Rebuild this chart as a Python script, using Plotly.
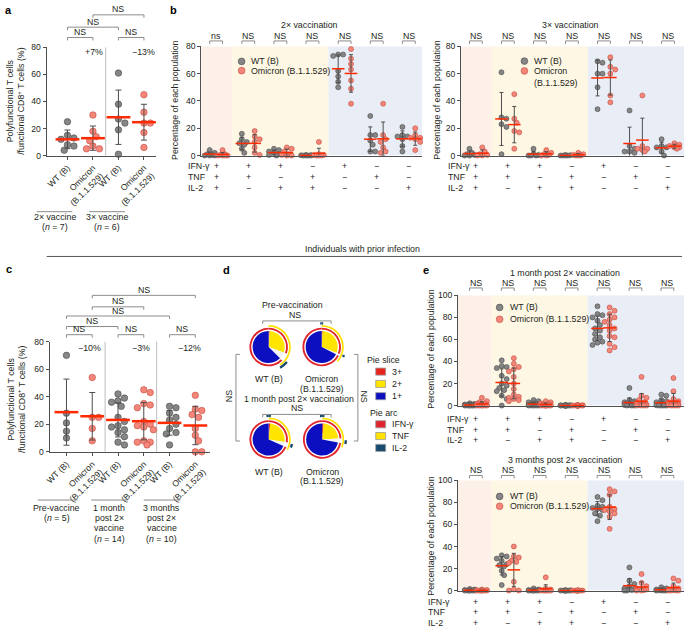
import numpy as np
import plotly.graph_objects as go

W, H = 685, 632
FONT = "Liberation Sans, Arial, Helvetica, sans-serif"
TXT = "#231f20"
AX = "#505050"
BR = "#8c8c8c"
FS = 8.8

# ---------------- data ----------------
# panel a
a_ticks = ["WT (B)", "Omicron<br>(B.1.1.529)", "WT (B)", "Omicron<br>(B.1.1.529)"]
a_wt_2x = [25, 15, 13, 12, 8, 7, 4]
a_om_2x = [30, 18, 14, 11, 7, 5, 5]
a_wt_3x = [61, 38, 27, 24, 19, 1]
a_om_3x = [45, 32, 24, 24, 17, 6]
a_change = ["+7%", "−13%"]

# panel b / e categories
ifn_row = ["+", "+", "+", "−", "+", "−", "−"]
tnf_row = ["+", "+", "−", "+", "−", "+", "−"]
il2_row = ["+", "−", "+", "+", "−", "−", "+"]
b2_sig = ["ns", "NS", "NS", "NS", "NS", "NS", "NS"]
other_sig = ["NS"] * 7

b2_wt = [[4, 2, 1, 0.5, 0, 0, 0],
         [16, 12, 10, 9, 8, 5, 2],
         [5, 4, 3, 2, 1, 0.5, 0],
         [0.5, 0.3, 0.2, 0, 0, 0, 0],
         [74, 74, 73, 62, 58, 54, 50],
         [29, 15, 15, 11, 8, 3, 3],
         [21, 15, 14, 14, 12, 7, 3]]
b2_om = [[4, 1, 0.5, 0, 0, 0, 0],
         [18, 14, 12, 10, 6, 2, 0.5],
         [6, 5, 3, 1, 0.5, 0, 0],
         [10, 1, 0.5, 0.3, 0, 0, 0],
         [78, 71, 67, 63, 55, 49, 38],
         [38, 15, 12, 10, 6, 3, 2],
         [20, 15, 13, 13, 12, 10, 4]]
b3_wt = [[5, 2, 1, 0.5, 0, 0],
         [61, 28, 27, 23, 21, 1],
         [5, 1, 0.5, 0, 0, 0],
         [0.5, 0.3, 0, 0, 0, 0],
         [69, 68, 60, 60, 50, 34],
         [33, 7, 5, 3, 3, 2],
         [12, 7, 6, 6, 3, 0]]
b3_om = [[6, 3, 1, 0.5, 0, 0],
         [45, 27, 24, 18, 17, 5],
         [4, 2, 1, 0.5, 0, 0],
         [2, 1, 0.5, 0, 0, 0],
         [72, 65, 63, 60, 44, 39],
         [44, 7, 5, 5, 4, 3],
         [9, 8, 7, 6, 6, 5]]

# panel c
c_ticks = ["WT (B)", "Omicron<br>(B.1.1.529)"] * 3
c_wt_pre = [70, 28, 21, 15, 10]
c_om_pre = [54, 25, 25, 17, 8]
c_wt_1m = [42, 39, 37, 36, 33, 25, 22, 19, 18, 16, 14, 11, 7, 5]
c_om_1m = [45, 43, 35, 34, 32, 22, 20, 19, 18, 16, 8, 7, 7, 5]
c_wt_3m = [33, 32, 28, 25, 23, 20, 17, 14, 13, 5]
c_om_3m = [41, 31, 30, 27, 25, 17, 12, 8, 0, 0]
c_change = ["−10%", "−3%", "−12%"]

# panel d (pie fractions, % of circle clockwise from 12 o'clock)
pie_3plus = [1.0, 1.0, 1.5, 1.5]
pie_2plus = [29.5, 30.0, 26.0, 22.5]
pie_gap = [7.0, 1.5, 4.0, 4.0]
pie_1plus = [62.5, 67.5, 68.5, 72.0]
arc_tnf_end = [41, 37, 33, 31]
arc_il2 = [[(36, 42)], [(-1, 1), (30.5, 32)], [(-1.5, 1.5), (28, 30.5)], [(-1.5, 1.5), (25.5, 28)]]

# panel e
e1_wt = [[2, 1.5, 1, 1, 0.5, 0.5, 0.3, 0.2, 0, 0, 0, 0, 0, 0],
         [41, 36, 35, 34, 27, 24, 20, 18, 16, 14, 13, 9, 6, 0],
         [5, 4, 3, 2, 1.5, 1, 1, 0.5, 0.3, 0, 0, 0, 0, 0],
         [0.5, 0.3, 0.2, 0.1, 0, 0, 0, 0, 0, 0, 0, 0, 0, 0],
         [90, 83, 82, 80, 77, 73, 70, 68, 65, 62, 60, 58, 57, 55],
         [16, 5, 4, 3, 3, 2, 2, 1, 1, 0.5, 0.3, 0, 0, 0],
         [10, 9, 5, 4, 3, 2, 1, 1, 0.5, 0.3, 0, 0, 0, 0]]
e1_om = [[7, 4, 3, 2, 1.5, 1, 0.5, 0.3, 0, 0, 0, 0, 0, 0],
         [43, 38, 35, 33, 31, 26, 20, 15, 10, 8, 7, 6, 5, 4],
         [4, 3, 2, 1.5, 1, 0.5, 0.3, 0, 0, 0, 0, 0, 0, 0],
         [0.5, 0.3, 0, 0, 0, 0, 0, 0, 0, 0, 0, 0, 0, 0],
         [89, 86, 83, 80, 78, 76, 73, 70, 68, 63, 62, 56, 53, 50],
         [26, 9, 7, 5, 3, 2, 1, 1, 0.5, 0.3, 0, 0, 0, 0],
         [25, 13, 6, 4, 3, 2, 1, 1, 0.5, 0.3, 0, 0, 0, 0]]
e2_wt = [[1.5, 1, 0.5, 0.3, 0, 0, 0, 0, 0, 0],
         [32, 31, 29, 27, 24, 23, 22, 18, 14, 5],
         [2, 1, 0.5, 0.3, 0, 0, 0, 0, 0, 0],
         [0.3, 0.2, 0, 0, 0, 0, 0, 0, 0, 0],
         [85, 82, 77, 76, 75, 74, 73, 70, 68, 63],
         [21, 9, 6, 4, 2, 1, 1, 0.5, 0, 0],
         [3, 2, 1, 1, 0.5, 0.3, 0, 0, 0, 0]]
e2_om = [[1, 0.5, 0.3, 0, 0, 0, 0, 0, 0, 0],
         [40, 31, 30, 27, 26, 25, 8, 1, 0, 0],
         [12, 2, 1, 0.5, 0, 0, 0, 0, 0, 0],
         [0.3, 0, 0, 0, 0, 0, 0, 0, 0, 0],
         [92, 90, 87, 76, 74, 73, 72, 70, 67, 56],
         [15, 7, 4, 2, 2, 1, 1, 0.5, 0, 0],
         [11, 9, 4, 2, 1, 0.5, 0, 0, 0, 0]]

# ---------------- helpers ----------------
def fx(px):
    return px / W


def fy(py):
    return 1 - py / H


fig = go.Figure()
shapes = []
anns = []

WT_FILL, WT_EDGE = "#868686", "#4a4a4a"
OM_FILL, OM_EDGE = "#f4877a", "#c0493c"
RED = "#ff2a00"


def A(x, y, text, size=FS, xref="paper", xanchor="center", yanchor="middle", angle=0, color=TXT):
    xx = fx(x) if xref == "paper" else x
    anns.append(dict(x=xx, y=fy(y), xref=xref, yref="paper", text=text, showarrow=False,
                     xanchor=xanchor, yanchor=yanchor, textangle=angle,
                     font=dict(size=size, color=color, family=FONT)))


def hbracket(xref, x1, x2, ypx, text="NS", tick=3, gap=5.5):
    shapes.append(dict(type="path", xref=xref, yref="paper",
                       path=f"M {x1},{fy(ypx + tick)} L {x1},{fy(ypx)} L {x2},{fy(ypx)} L {x2},{fy(ypx + tick)}",
                       line=dict(color=BR, width=1)))
    A((x1 + x2) / 2, ypx - gap, text, xref=xref)


def pline(x0, y0, x1, y1, color=BR, width=1):
    shapes.append(dict(type="line", xref="paper", yref="paper", x0=fx(x0), y0=fy(y0),
                       x1=fx(x1), y1=fy(y1), line=dict(color=color, width=width)))


def swarm(vals, ypx, d, maxoff):
    vals = np.asarray(vals, float)
    order = np.argsort(-vals, kind="stable")
    placed = []
    offs = np.zeros(len(vals))
    step = d * 0.5
    cands = [0.0]
    k = 1
    while k * step <= maxoff + 1e-9:
        cands += [k * step, -k * step]
        k += 1
    for i in order:
        y = vals[i] * ypx
        best, bestd = 0.0, -1
        for c in cands:
            md = min((np.hypot(c - p[0], y - p[1]) for p in placed), default=1e9)
            if md >= d * 0.95:
                best = c
                break
            if md > bestd:
                bestd, best = md, c
        placed.append((best, y))
        offs[i] = best
    return offs


def add_groups(xa, ya, centers, groups, fill, edge, size, ypx, xpx, maxoff, barlen, barw, cap, lw):
    xs, ys, mx, my, sd = [], [], [], [], []
    for c, vals in zip(centers, groups):
        offs = swarm(vals, ypx, size, maxoff)
        xs += [c + o / xpx for o in offs]
        ys += list(vals)
        mx.append(c)
        my.append(float(np.mean(vals)))
        sd.append(float(np.std(vals, ddof=1)))
    fig.add_trace(go.Scatter(x=xs, y=ys, xaxis=xa, yaxis=ya, mode="markers",
                             marker=dict(size=size, color=fill, line=dict(color=edge, width=lw)),
                             cliponaxis=False, hoverinfo="skip", showlegend=False))
    fig.add_trace(go.Scatter(x=mx, y=my, xaxis=xa, yaxis=ya, mode="markers",
                             marker=dict(size=1, color="rgba(0,0,0,0)"),
                             error_y=dict(type="data", array=sd, visible=True, color="#4d4d4d",
                                          thickness=1, width=cap),
                             hoverinfo="skip", showlegend=False))
    fig.add_trace(go.Scatter(x=mx, y=my, xaxis=xa, yaxis=ya, mode="markers",
                             marker=dict(symbol="line-ew", size=barlen, color=RED,
                                         line=dict(color=RED, width=barw)),
                             cliponaxis=False, hoverinfo="skip", showlegend=False))


def yax(top, bot, rng, anchor, vals):
    return dict(domain=[fy(bot), fy(top)], range=rng, anchor=anchor, showgrid=False, zeroline=False,
                showline=True, linecolor=AX, linewidth=1, ticks="outside", ticklen=3, tickcolor=AX,
                tickvals=vals, tickfont=dict(size=8.6, color=TXT, family=FONT), fixedrange=True)


def xax(left, right, rng, anchor, tickvals=None, ticktext=None):
    d = dict(domain=[fx(left), fx(right)], range=rng, anchor=anchor, showgrid=False, zeroline=False,
             showline=True, linecolor=AX, linewidth=1, fixedrange=True)
    if tickvals is None:
        d.update(showticklabels=False, ticks="")
    else:
        d.update(tickvals=tickvals, ticktext=ticktext, tickangle=-45, ticks="outside", ticklen=3,
                 tickcolor=AX, tickfont=dict(size=8.6, color=TXT, family=FONT))
    return d


# ---------------- panel a ----------------
a_y = 110 / 80
add_groups("x", "y", [0, 2], [a_wt_2x, a_wt_3x], WT_FILL, WT_EDGE, 6.5, a_y, 25.7, 9, 17, 2.5, 3, 0.6)
add_groups("x", "y", [1, 3], [a_om_2x, a_om_3x], OM_FILL, OM_EDGE, 6.5, a_y, 25.7, 9, 17, 2.5, 3, 0.6)
shapes.append(dict(type="line", xref="x", yref="y", x0=1.5, x1=1.5, y0=0, y1=80,
                   line=dict(color="#bdbdbd", width=1), layer="below"))
hbracket("x", 0, 1, 33)
hbracket("x", 2, 3, 33)
hbracket("x", 0, 2, 22.5)
hbracket("x", 1, 3, 10)
A(90, 48, a_change[0])
A(140, 48, a_change[1])
A(10.5, 97, "Polyfunctional T cells<br>/functional CD8<sup>+</sup> T cells (%)", angle=-90)
pline(32, 210, 68, 210)
pline(85, 210, 121, 210)
A(50, 215.5, "2× vaccine")
A(50, 226, "(<i>n</i> = 7)")
A(103, 215.5, "3× vaccine")
A(103, 226, "(<i>n</i> = 6)")

# ---------------- panel b ----------------
b_y = 111 / 80
cats = list(range(7))
regions = [(-1, 0.5, "#fdf0e8"), (0.5, 3.5, "#fef7e4"), (3.5, 7, "#e9eef6")]
for xa, ya, wt, om, sig, title, tx, lab_x, xr in [
        ("x2", "y2", b2_wt, b2_om, b2_sig, "2× vaccination", 307, 183, [-0.463, 6.42]),
        ("x3", "y3", b3_wt, b3_om, other_sig, "3× vaccination", 570, 445, [-0.465, 6.5])]:
    for x0, x1, col in regions:
        shapes.append(dict(type="rect", xref=xa, yref=ya, x0=max(x0, xr[0]), x1=min(x1, xr[1]), y0=0, y1=80,
                           fillcolor=col, line=dict(width=0), layer="below"))
    add_groups(xa, ya, [c - 0.2 for c in cats], wt, WT_FILL, WT_EDGE, 5, b_y, 32.4, 5, 9, 1.5, 2, 0.6)
    add_groups(xa, ya, [c + 0.2 for c in cats], om, OM_FILL, OM_EDGE, 5, b_y, 32.4, 5, 9, 1.5, 2, 0.6)
    A(tx, 20, title)
    for c in cats:
        hbracket(xa, c - 0.2, c + 0.2, 36.5, text=sig[c])
        A(c, 164, ifn_row[c], xref=xa)
        A(c, 175, tnf_row[c], xref=xa)
        A(c, 186, il2_row[c], xref=xa)
    A(lab_x, 164, "IFN-γ", xanchor="left")
    A(lab_x, 175, "TNF", xanchor="left")
    A(lab_x, 186, "IL-2", xanchor="left")

A(172, 97, "Percentage of each population", angle=-90)
A(436, 97, "Percentage of each population", angle=-90)


def legend_marks(cx, cy_wt, cy_om, tx, om_text):
    for cy, fill, edge in [(cy_wt, WT_FILL, WT_EDGE), (cy_om, OM_FILL, OM_EDGE)]:
        shapes.append(dict(type="circle", xref="paper", yref="paper", x0=fx(cx - 3.4), x1=fx(cx + 3.4),
                           y0=fy(cy + 3.4), y1=fy(cy - 3.4), fillcolor=fill, line=dict(color=edge, width=0.6)))
    A(tx, cy_wt, "WT (B)", xanchor="left")
    A(tx, cy_om, om_text, xanchor="left")


legend_marks(238.7, 57.3, 66.7, 246, "Omicron (B.1.1.529)")
legend_marks(524, 57, 67, 532, "Omicron")
A(532, 79, "(B.1.1.529)", xanchor="left")

# separator
A(361, 248, "Individuals with prior infection")
pline(42, 255.5, 683, 255.5, color="#555555", width=1)

# ---------------- panel c ----------------
c_y = 112 / 80
add_groups("x4", "y4", [0, 2, 4], [c_wt_pre, c_wt_1m, c_wt_3m], WT_FILL, WT_EDGE, 6.5, c_y, 26, 10, 17, 2.5, 3, 0.6)
add_groups("x4", "y4", [1, 3, 5], [c_om_pre, c_om_1m, c_om_3m], OM_FILL, OM_EDGE, 6.5, c_y, 26, 10, 17, 2.5, 3, 0.6)
for xv in [1.5, 3.5]:
    shapes.append(dict(type="line", xref="x4", yref="y4", x0=xv, x1=xv, y0=0, y1=80,
                       line=dict(color="#bdbdbd", width=1), layer="below"))
for p in [(0, 1), (2, 3), (4, 5)]:
    hbracket("x4", p[0], p[1], 335)
hbracket("x4", 0, 2, 326.7)
hbracket("x4", 0, 4, 316)
hbracket("x4", 1, 3, 306.7)
hbracket("x4", 1, 5, 295)
A(85, 349, c_change[0])
A(137, 349, c_change[1])
A(186, 349, c_change[2])
A(11.5, 400, "Polyfunctional T cells<br>/functional CD8<sup>+</sup> T cells (%)", angle=-90)
pline(33, 503, 73, 503)
pline(87, 503, 124, 503)
pline(140, 503, 177, 503)
for cx, lines in [(52, ["Pre-vaccine", "(<i>n</i> = 5)"]),
                  (105, ["1 month", "post 2×", "vaccine", "(<i>n</i> = 14)"]),
                  (158, ["3 months", "post 2×", "vaccine", "(<i>n</i> = 10)"])]:
    for i, t in enumerate(lines):
        A(cx, 511 + 10.4 * i, t)

# ---------------- panel d ----------------
TRANSP = "rgba(255,255,255,0)"
C3, C2, C1 = "#e8231a", "#ffe500", "#0b0fbf"
CIFN, CTNF, CIL2 = "#e0262c", "#ffe100", "#174a70"
pie_centers = [(266, 347.5), (319.5, 347.5), (266, 441.5), (320, 441.5)]


def ring(segs):
    pieces = []
    for s, e in segs:
        if s < 0:
            pieces += [(s + 100, 100), (0, e)]
        else:
            pieces.append((s, e))
    pieces.sort()
    vals, flags = [], []
    pos = 0.0
    for s, e in pieces:
        if s > pos:
            vals.append(s - pos)
            flags.append(False)
        vals.append(e - s)
        flags.append(True)
        pos = e
    if pos < 100:
        vals.append(100 - pos)
        flags.append(False)
    return vals, flags


pie_id = [0]


def add_pie(cx, cy, r_out, r_in, vals, colors):
    pie_id[0] += 1
    pid = pie_id[0]
    fig.add_trace(go.Pie(values=vals, labels=[f"p{pid}s{i}" for i in range(len(vals))],
                         marker=dict(colors=colors, line=dict(width=0)),
                         hole=(r_in / r_out) if r_in > 0 else 0, sort=False, direction="clockwise",
                         rotation=0, textinfo="none", hoverinfo="skip", showlegend=False,
                         domain=dict(x=[fx(cx - r_out), fx(cx + r_out)], y=[fy(cy + r_out), fy(cy - r_out)])))


for i, (cx, cy) in enumerate(pie_centers):
    add_pie(cx, cy, 16.3, 0, [pie_3plus[i], pie_2plus[i], pie_gap[i], pie_1plus[i]],
            [C3, C2, "#f3f3f8", C1])
    g0 = pie_3plus[i] + pie_2plus[i]
    g1 = g0 + pie_gap[i]
    v, f = ring([(0, g0), (g1, 100)])
    add_pie(cx, cy, 19.6, 17.7, v, [CIFN if k else TRANSP for k in f])
    v, f = ring([(0, arc_tnf_end[i])])
    add_pie(cx, cy, 22.4, 20.7, v, [CTNF if k else TRANSP for k in f])
    v, f = ring(arc_il2[i])
    add_pie(cx, cy, 25.2, 22.8, v, [CIL2 if k else TRANSP for k in f])

A(266, 380, "WT (B)")
A(319.5, 380, "Omicron")
A(319.5, 390, "(B.1.1.529)")
A(266, 474, "WT (B)")
A(320, 474, "Omicron")
A(320, 484, "(B.1.1.529)")
A(290, 305.2, "Pre-vaccination")
A(293, 314.6, "NS")
A(296.7, 400, "1 month post 2× vaccination")
A(295, 409.5, "NS")
for yy in (321, 416):
    shapes.append(dict(type="path", xref="paper", yref="paper",
                       path=f"M {fx(260)},{fy(yy + 3)} L {fx(260)},{fy(yy)} L {fx(329)},{fy(yy)} L {fx(329)},{fy(yy + 3)}",
                       line=dict(color=BR, width=1)))
shapes.append(dict(type="path", xref="paper", yref="paper",
                   path=f"M {fx(237)},{fy(355)} L {fx(233)},{fy(355)} L {fx(233)},{fy(443)} L {fx(237)},{fy(443)}",
                   line=dict(color=BR, width=1)))
shapes.append(dict(type="path", xref="paper", yref="paper",
                   path=f"M {fx(352)},{fy(355)} L {fx(356)},{fy(355)} L {fx(356)},{fy(443)} L {fx(352)},{fy(443)}",
                   line=dict(color=BR, width=1)))
A(225.5, 398, "NS", angle=-90)
A(362.5, 398, "NS", angle=90)

A(382, 361, "Pie slice")
for (yy, col, lab) in [(372.5, C3, "3+"), (385, C2, "2+"), (397.5, C1, "1+")]:
    shapes.append(dict(type="rect", xref="paper", yref="paper", x0=fx(374), x1=fx(384),
                       y0=fy(yy + 3.6), y1=fy(yy - 3.6), fillcolor=col, line=dict(color="#9a9a9a", width=0.8)))
    A(388, yy, lab, xanchor="left")
A(382, 414.3, "Pie arc")
for (yy, col, lab) in [(426, CIFN, "IFN-γ"), (438, CTNF, "TNF"), (450, CIL2, "IL-2")]:
    shapes.append(dict(type="rect", xref="paper", yref="paper", x0=fx(374), x1=fx(384),
                       y0=fy(yy + 3.6), y1=fy(yy - 3.6), fillcolor=col, line=dict(color="#9a9a9a", width=0.8)))
    A(388, yy, lab, xanchor="left")

# ---------------- panel e ----------------
e_y = 112 / 100
e_rng = [-0.559, 6.52]
for xa, ya, wt, om, title, ty, sig_y, rows_y, lab_x, leg_y in [
        ("x5", "y5", e1_wt, e1_om, "1 month post 2× vaccination", 272.7, 287.5, (421, 432, 442), 444, (307.3, 319.3)),
        ("x6", "y6", e2_wt, e2_om, "3 months post 2× vaccination", 462, 478, (607, 617, 628), 425, (499.3, 509.3))]:
    for x0, x1, col in regions:
        shapes.append(dict(type="rect", xref=xa, yref=ya, x0=max(x0, e_rng[0]), x1=min(x1, e_rng[1]), y0=0, y1=100,
                           fillcolor=col, line=dict(width=0), layer="below"))
    add_groups(xa, ya, [c - 0.19 for c in cats], wt, WT_FILL, WT_EDGE, 5, e_y, 32.2, 5, 9, 1.5, 2, 0.6)
    add_groups(xa, ya, [c + 0.19 for c in cats], om, OM_FILL, OM_EDGE, 5, e_y, 32.2, 5, 9, 1.5, 2, 0.6)
    A(565, ty, title)
    for c in cats:
        hbracket(xa, c - 0.2, c + 0.2, sig_y, text=other_sig[c])
        A(c, rows_y[0], ifn_row[c], xref=xa)
        A(c, rows_y[1], tnf_row[c], xref=xa)
        A(c, rows_y[2], il2_row[c], xref=xa)
    A(lab_x, rows_y[0], "IFN-γ", xanchor="left")
    A(lab_x, rows_y[1], "TNF", xanchor="left")
    A(lab_x, rows_y[2], "IL-2", xanchor="left")
    legend_marks(499, leg_y[0], leg_y[1], 507, "Omicron (B.1.1.529)")

A(430, 350, "Percentage of each population", angle=-90)
A(430, 540, "Percentage of each population", angle=-90)

# panel labels
for lab, x, y in [("a", 4, 5), ("b", 170, 5), ("c", 4, 268), ("d", 223, 269), ("e", 425, 269)]:
    A(x, y, f"<b>{lab}</b>", size=11, color="#000000")

fig.update_layout(
    width=W, height=H, margin=dict(l=0, r=0, t=0, b=0),
    paper_bgcolor="white", plot_bgcolor="rgba(0,0,0,0)",
    font=dict(family=FONT, size=FS, color=TXT),
    showlegend=False,
    xaxis=xax(42, 152, [-0.817, 3.46], "y", [0, 1, 2, 3], a_ticks),
    yaxis=yax(43, 153, [0, 80], "x", [0, 20, 40, 60, 80]),
    xaxis2=xax(198, 421, [-0.463, 6.42], "y2"),
    yaxis2=yax(42, 153, [0, 80], "x2", [0, 20, 40, 60, 80]),
    xaxis3=xax(460, 685, [-0.465, 6.5], "y3"),
    yaxis3=yax(42, 153, [0, 80], "x3", [0, 20, 40, 60, 80]),
    xaxis4=xax(45, 207, [-0.654, 5.577], "y4", [0, 1, 2, 3, 4, 5], c_ticks),
    yaxis4=yax(342, 454, [0, 80], "x4", [0, 20, 40, 60, 80]),
    xaxis5=xax(457, 685, e_rng, "y5"),
    yaxis5=yax(295, 407, [0, 100], "x5", [0, 20, 40, 60, 80, 100]),
    xaxis6=xax(457, 685, e_rng, "y6"),
    yaxis6=yax(483, 595, [0, 100], "x6", [0, 20, 40, 60, 80, 100]),
    shapes=shapes,
    annotations=anns,
)

fig.write_html("out.html", config={"displayModeBar": False},
               post_script="document.body.style.margin='0px';document.body.style.overflow='hidden';")
